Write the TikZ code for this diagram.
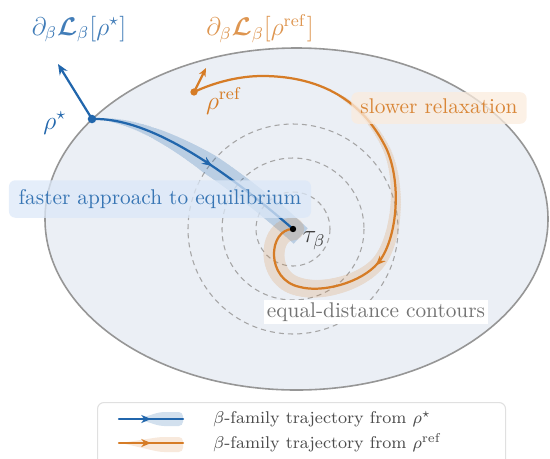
\documentclass[tikz,border=0pt]{standalone}
\usepackage{amsmath,amssymb,bm}
\usetikzlibrary{arrows.meta,decorations.markings}
\definecolor{cblue}{RGB}{33,102,172}
\definecolor{corange}{RGB}{214,124,38}
\definecolor{ellfill}{RGB}{235,239,245}
\definecolor{ellline}{RGB}{150,150,150}
\definecolor{contourc}{RGB}{165,165,165}
\definecolor{bluebox}{RGB}{220,232,248}
\definecolor{orangebox}{RGB}{251,236,222}
\begin{document}
\begin{tikzpicture}[x=0.4695pt,y=-0.4695pt,
  traj/.style={line width=1.05pt, line cap=round, line join=round},
  midarrow/.style={postaction={decorate, decoration={markings,
      mark=at position #1 with {\arrow{Stealth[length=4.6pt,width=3.8pt]}}}}},
  contourline/.style={contourc, line width=0.5pt, dash pattern=on 2.4pt off 1.9pt},
  dotstyle/.style={circle, inner sep=0pt, minimum size=#1},
  lab/.style={font=\large, inner sep=0pt},
  boxlab/.style={rounded corners=3pt, fill opacity=0.75, text opacity=1,
      text height=6.9pt, text depth=1.9pt},
  % tapered band: start fraction, end fraction of ramp, start radius, max radius (pt), colour
  band/.style n args={5}{decoration={markings,
      mark=between positions #1 and 1 step 1.2pt with {%
        \pgfmathsetmacro\fr{(\pgfkeysvalueof{/pgf/decoration/mark info/distance from start})/(\pgfdecoratedpathlength)}%
        \pgfmathsetmacro\rad{min(#4, #3 + (#4-#3)*max(0,\fr-#1)/(#2-#1))}%
        \fill[#5] (0,0) circle [radius=\rad pt];}}, decorate}]
\useasboundingbox (0,0) rectangle (550,458);

% ellipse (state space)
\draw[ellline, fill=ellfill, line width=0.75pt] (296.5,219) ellipse [x radius=251.5, y radius=171];

\coordinate (tau) at (293,229);
\coordinate (rs) at (92,119);
\coordinate (rr) at (194,92);
\coordinate (nstar) at (58,64);
\coordinate (nref) at (206,68);
\coordinate (o1) at (262,76);
\coordinate (o2) at (387,150);
\coordinate (o3) at (378,263);
\coordinate (o4) at (300,287);

% contours
\foreach \r in {37,71,105} \draw[contourline] (tau) circle [radius=\r];

% bands
\begin{scope}[transparency group, opacity=0.24]
  \path[band={0}{0.55}{0.2}{4.9}{cblue}] (rs) .. controls (150,117) and (225,170) .. (tau);
  \draw[cblue, line width=9.8pt, line cap=rect] (281,218) -- (tau);
\end{scope}
\begin{scope}[transparency group, opacity=0.18]
  \path[band={0.3}{1}{0.9}{5.4}{corange}] (rr) .. controls (215,82) and (240,76) .. (o1)
     .. controls (335,76) and (370,114) .. (o2)
     .. controls (402,185) and (397,240) .. (o3)
     .. controls (361,283) and (322,293) .. (o4)
     .. controls (265,280) and (268,229) .. (tau);
\end{scope}

% trajectories
\draw[traj, cblue, midarrow=0.56] (rs) .. controls (150,117) and (225,170) .. (tau);
\draw[traj, corange, midarrow=0.68] (rr) .. controls (215,82) and (240,76) .. (o1)
     .. controls (335,76) and (370,114) .. (o2)
     .. controls (402,185) and (397,240) .. (o3)
     .. controls (361,283) and (322,293) .. (o4)
     .. controls (265,280) and (268,229) .. (tau);

% gradient arrows
\draw[cblue, line width=1.05pt, -{Stealth[length=5pt,width=4.2pt]}] (rs) -- (nstar);
\draw[corange, line width=1.05pt, -{Stealth[length=4pt,width=3.4pt]}] (rr) -- (nref);

% dots
\node[dotstyle=4pt, fill=cblue] (dstar) at (rs) {};
\node[dotstyle=3.4pt, fill=corange] (dref) at (rr) {};
\node[dotstyle=3pt, fill=black] (dtau) at (tau) {};

% boxed labels
\node[boxlab, fill=bluebox, text=cblue!90!white, inner xsep=4.6pt, inner ysep=4.4pt] (faster) at (160,199) {faster approach to equilibrium};
\node[boxlab, fill=orangebox, text=corange!92!white, inner xsep=4.3pt, inner ysep=3pt] (slower) at (439,108) {slower relaxation};
\node[fill=white, text=black!55, inner xsep=1.4pt, inner ysep=1.2pt, text height=6.9pt, text depth=1.9pt] (contlab) at (376,312) {equal-distance contours};

% math labels
\node[lab, text=cblue!85!white] (gstar) at (79,29) {$\partial_\beta\boldsymbol{\mathcal{L}}_\beta[\rho^\star]$};
\node[lab, text=corange!80!white] (gref) at (260,29) {$\partial_\beta\boldsymbol{\mathcal{L}}_\beta[\rho^{\mathrm{ref}}]$};
\node[lab, text=cblue] (lstar) at (55,123) {$\rho^\star$};
\node[lab, text=corange] (lref) at (224,101) {$\rho^{\mathrm{ref}}$};
\node[lab, text=black!75] (ltau) at (314,241) {$\tau_\beta$};

% legend
\node[draw=black!12, fill=white, rounded corners=3pt, line width=0.5pt, minimum width=408*0.4695pt, minimum height=70*0.4695pt, anchor=north west, inner sep=0pt] (legend) at (97,402) {};
\coordinate (la1) at (119,419);
\coordinate (lb1) at (183,419);
\coordinate (la2) at (119,443);
\coordinate (lb2) at (183,443);
\fill[cblue, opacity=0.2, rounded corners=2pt] (138,419) -- (160,412) -- (183,412) -- (183,426) -- (160,426) -- cycle;
\fill[corange, opacity=0.16, rounded corners=2pt] (121,443) -- (160,437) -- (183,437) -- (183,452) -- (160,452) -- cycle;
\draw[traj, cblue, midarrow=0.5] (la1) -- (lb1);
\draw[traj, corange, midarrow=0.5] (la2) -- (lb2);
\node[anchor=west, font=\footnotesize, text=black!70, inner sep=0pt] (leg1) at (213,419) {$\beta$-family trajectory from $\rho^\star$};
\node[anchor=west, font=\footnotesize, text=black!70, inner sep=0pt] (leg2) at (213,443) {$\beta$-family trajectory from $\rho^{\mathrm{ref}}$};
\end{tikzpicture}
\end{document}
